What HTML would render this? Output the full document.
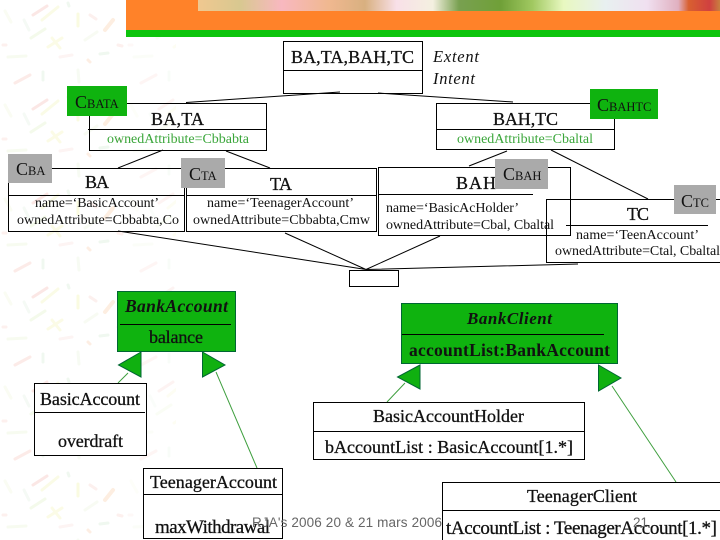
<!DOCTYPE html>
<html><head><meta charset="utf-8"><style>
html,body{margin:0;padding:0;background:#fff;width:720px;height:540px;overflow:hidden}
svg{display:block}
text{font-family:"Liberation Serif",serif;fill:#111}
.s{font-family:"Liberation Sans",sans-serif;fill:#666;stroke:none}
.g{fill:#3aa63a}
.h{stroke:#111;stroke-width:.3}
.b{fill:none;stroke:#000;stroke-width:1}
.l{stroke:#000;stroke-width:1;fill:none}
.gl{stroke:#3f9f3f;stroke-width:1;fill:none}
.tri{fill:#10b010;stroke:#063;stroke-width:1}
</style></head><body>
<svg width="720" height="540" viewBox="0 0 720 540" xmlns="http://www.w3.org/2000/svg">
<defs>
<pattern id="lv" width="126" height="94" patternUnits="userSpaceOnUse">
<g fill="none" stroke-linecap="round" stroke-width="3" opacity=".32">
<path d="M33 15L47 6" stroke="#f3b5ad"/>
<path d="M42 20L58 7" stroke="#eef2b0"/>
<path d="M5 11L11 22" stroke="#eef5d8"/>
<path d="M68 3L69 6" stroke="#cfe8cf"/>
<path d="M24 20L29 30" stroke="#e0efe0"/>
<path d="M31 38L45 29" stroke="#dcefc0"/>
<path d="M78 14L78 26" stroke="#eef2a0"/>
<path d="M90 15L96 19" stroke="#f6d0c8"/>
<path d="M105 30L113 20" stroke="#f9c9a0" stroke-width="4"/>
<path d="M48 47L62 38" stroke="#f3f3b0"/>
<path d="M52 38L60 48" stroke="#f3f3b0"/>
<path d="M8 57L26 56" stroke="#e6f2d0"/>
<path d="M3 45L6 45" stroke="#f8d0c8"/>
<path d="M60 57L72 55" stroke="#f8dcd8"/>
<path d="M85 40L97 32" stroke="#e8f2d8"/>
<path d="M100 54L108 53" stroke="#cfe8cf"/>
<path d="M88 60L90 62" stroke="#f8c8a8"/>
<path d="M15 83L30 75" stroke="#f6c0b8"/>
<path d="M43 72L43 80" stroke="#cfe8cf"/>
<path d="M78 70L79 82" stroke="#e6f2d8"/>
<path d="M118 45L122 46" stroke="#f8d0c8"/>
</g>
</pattern>
<linearGradient id="st" x1="0" x2="1" y1="0" y2="0">
<stop offset="0" stop-color="#f0c890"/><stop offset=".08" stop-color="#d8c890"/>
<stop offset=".16" stop-color="#f8b8c0"/><stop offset=".25" stop-color="#f0b890"/>
<stop offset=".32" stop-color="#d8b080"/><stop offset=".38" stop-color="#f8e0e8"/>
<stop offset=".45" stop-color="#f4f0e0"/><stop offset=".50" stop-color="#78a050"/>
<stop offset=".58" stop-color="#70a038"/><stop offset=".64" stop-color="#a0c860"/>
<stop offset=".70" stop-color="#e8f8c0"/><stop offset=".78" stop-color="#e8f0f0"/>
<stop offset=".86" stop-color="#f0e0f0"/><stop offset=".92" stop-color="#e0b0c0"/>
<stop offset=".94" stop-color="#d86030"/><stop offset=".98" stop-color="#d04040"/>
<stop offset="1" stop-color="#c88040"/>
</linearGradient>
</defs>
<rect width="720" height="540" fill="#fff"/>
<rect width="126" height="540" fill="url(#lv)"/>
<rect x="126" y="37" width="50" height="503" fill="url(#lv)" opacity=".5"/>
<rect x="126" y="0" width="594" height="30" fill="#ff8229"/>
<rect x="198" y="0" width="522" height="11" fill="url(#st)"/>
<rect x="126" y="30" width="594" height="7" fill="#0cc40c"/>

<!-- connector lines -->
<path class="l" d="M186 102.500L340 92M378 93L513 102M163 150L118 168M226 151L270 168M507 151L469 166M551 150L648 199"/>
<path class="l" d="M118 231L366 269.500M285 233L366 269.500M440 236L366 269.500M578 264L366 269.500"/>

<!-- top box -->
<rect class="b" x="283.500" y="41.500" width="139" height="52"/>
<path class="l" d="M283 70.500H423"/>
<text class="h" x="291" y="63" font-size="18" textLength="123">BA,TA,BAH,TC</text>
<text x="433" y="62" font-size="16.500" font-style="italic" textLength="46">Extent</text>
<text x="433" y="84" font-size="16.500" font-style="italic" textLength="42">Intent</text>

<!-- BA,TA -->
<rect class="b" x="89.500" y="103.500" width="177" height="47"/>
<path class="l" d="M88 129.500H267"/>
<text class="h" x="151" y="125" font-size="18" textLength="53">BA,TA</text>
<text class="g" x="107" y="143" font-size="14" textLength="142">ownedAttribute=Cbbabta</text>
<rect x="67" y="86" width="60" height="30" fill="#0fb30f"/>
<text x="75" y="108" font-size="18">C<tspan font-size="12.500">BATA</tspan></text>

<!-- BAH,TC -->
<rect class="b" x="436.500" y="103.500" width="178" height="46"/>
<path class="l" d="M437 129.500H615"/>
<text class="h" x="493" y="125" font-size="18" textLength="65">BAH,TC</text>
<text class="g" x="457" y="143" font-size="14" textLength="136">ownedAttribute=Cbaltal</text>
<rect x="590" y="89" width="68" height="30" fill="#0fb30f"/>
<text x="597" y="111" font-size="18">C<tspan font-size="12.500">BAHTC</tspan></text>

<!-- BA -->
<rect class="b" x="8.500" y="168.500" width="176" height="63"/>
<path class="l" d="M8 195.500H185"/>
<text class="h" x="85" y="188" font-size="18" textLength="24">BA</text>
<text x="35" y="207" font-size="14" textLength="124">name=‘BasicAccount’</text>
<text x="17" y="224" font-size="14" textLength="162">ownedAttribute=Cbbabta,Co</text>
<rect x="8" y="154" width="44" height="29" fill="#aaa"/>
<text x="16" y="175" font-size="18">C<tspan font-size="12.500">BA</tspan></text>

<!-- TA -->
<rect class="b" x="186.500" y="168.500" width="190" height="63"/>
<path class="l" d="M186 195.500H377"/>
<text class="h" x="270" y="190" font-size="18" textLength="22">TA</text>
<text x="207" y="207" font-size="14" textLength="147">name=‘TeenagerAccount’</text>
<text x="193" y="224" font-size="14" textLength="177">ownedAttribute=Cbbabta,Cmw</text>
<rect x="181" y="158" width="44" height="30" fill="#aaa"/>
<text x="189" y="180" font-size="18">C<tspan font-size="12.500">TA</tspan></text>

<!-- BAH -->
<rect class="b" x="378.500" y="167.500" width="192" height="68"/>
<path class="l" d="M378 194.500H533"/>
<text class="h" x="456" y="189" font-size="18" textLength="40">BAH</text>
<text x="386" y="212" font-size="14" textLength="133">name=‘BasicAcHolder’</text>
<text x="386" y="229" font-size="14" textLength="168">ownedAttribute=Cbal, Cbaltal</text>
<rect x="495" y="159" width="53" height="30" fill="#aaa"/>
<text x="503" y="180" font-size="18">C<tspan font-size="12.500">BAH</tspan></text>

<!-- TC -->
<path class="l" d="M720 199.500H546.500V262.500H720M566 225.500H708"/>
<text class="h" x="627" y="220" font-size="18" textLength="22">TC</text>
<text x="576" y="239" font-size="14" textLength="123">name=‘TeenAccount’</text>
<text x="555" y="255" font-size="14" textLength="165">ownedAttribute=Ctal, Cbaltal</text>
<rect x="674" y="185" width="42" height="29" fill="#aaa"/>
<text x="681" y="207" font-size="18">C<tspan font-size="12.500">TC</tspan></text>

<!-- small box -->
<rect class="b" x="349.500" y="270.500" width="49" height="16"/>

<!-- green inheritance lines -->
<path class="gl" d="M128 373L118 383M216 372L257 468M405 383L387 402M612 386L676 482"/>

<!-- BankAccount -->
<rect x="117.500" y="291.500" width="118" height="60" fill="#0fb30f" stroke="#063"/>
<path class="l" d="M120 324.500H231"/>
<text x="125" y="312" font-size="17.500" font-weight="bold" font-style="italic" textLength="103">BankAccount</text>
<text class="h" x="149" y="343" font-size="18" textLength="54">balance</text>
<path class="tri" d="M141 352L118.500 365L141 377ZM202.500 352L225 365L202.500 377Z"/>

<!-- BankClient -->
<rect x="401.500" y="303.500" width="216" height="60" fill="#0fb30f" stroke="#063"/>
<path class="l" d="M402 334.500H604"/>
<text x="467" y="324" font-size="17" font-weight="bold" font-style="italic" textLength="85">BankClient</text>
<text x="409" y="356" font-size="17.500" font-weight="bold" textLength="201">accountList:BankAccount</text>
<path class="tri" d="M420 365L397.500 377L420 389ZM598.500 365L621 378L598.500 391Z"/>

<!-- BasicAccount -->
<rect class="b" x="34.500" y="383.500" width="112" height="72" style="fill:#fff"/>
<path class="l" d="M34 412.500H145"/>
<text class="h" x="40" y="405" font-size="18" textLength="100">BasicAccount</text>
<text class="h" x="58" y="447" font-size="18" textLength="65">overdraft</text>

<!-- BasicAccountHolder -->
<rect class="b" x="313.500" y="402.500" width="271" height="57" style="fill:#fff"/>
<path class="l" d="M313 431.500H584"/>
<text class="h" x="373" y="422" font-size="18" textLength="151">BasicAccountHolder</text>
<text class="h" x="325" y="453" font-size="18" textLength="248">bAccountList : BasicAccount[1.*]</text>

<!-- TeenagerAccount -->
<rect class="b" x="143.500" y="468.500" width="139" height="70" style="fill:#fff"/>
<path class="l" d="M143 494.500H282"/>
<text class="h" x="150" y="488" font-size="18" textLength="127">TeenagerAccount</text>
<text class="h" x="155" y="533" font-size="19" textLength="115">maxWithdrawal</text>

<!-- TeenagerClient -->
<path class="b" d="M720 482.500H442.500V540M442 510.500H720" style="fill:#fff"/>
<text class="h" x="527" y="502" font-size="18" textLength="110">TeenagerClient</text>
<text class="h" x="446" y="534" font-size="19" textLength="271">tAccountList : TeenagerAccount[1.*]</text>

<!-- footer -->
<text class="s" x="252" y="527" font-size="13.500" textLength="190">RJA's 2006 20 &amp; 21 mars 2006</text>
<text class="s" x="633" y="527" font-size="13.500" textLength="15">21</text>
</svg>
</body></html>
